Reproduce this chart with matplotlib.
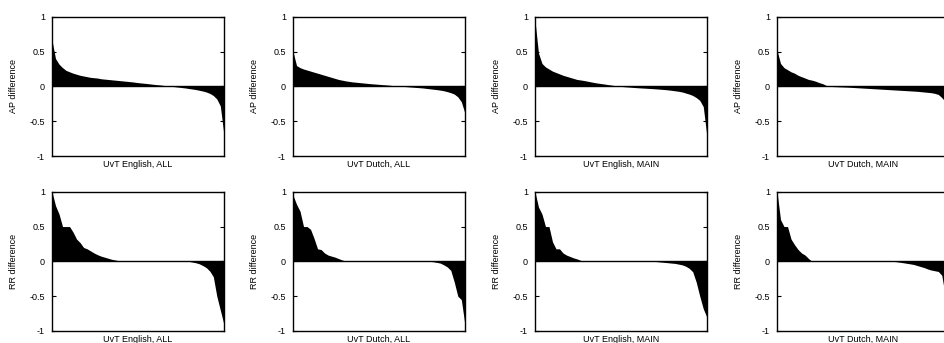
import matplotlib
matplotlib.use("Agg")
import matplotlib.pyplot as plt
import numpy as np

plt.rcParams['font.family'] = ['Liberation Sans', 'DejaVu Sans']

# sorted per-query differences (50 samples each)
ap_en_all = [0.66, 0.40, 0.32, 0.27, 0.23, 0.21, 0.19, 0.175, 0.16, 0.15,
             0.14, 0.13, 0.125, 0.12, 0.11, 0.105, 0.10, 0.095, 0.09, 0.085,
             0.08, 0.075, 0.07, 0.065, 0.058, 0.052, 0.047, 0.042, 0.036, 0.03,
             0.025, 0.02, 0.014, 0.008, 0.002, -0.004, -0.01, -0.016, -0.022, -0.03,
             -0.037, -0.045, -0.055, -0.066, -0.08, -0.10, -0.13, -0.18, -0.28, -0.68]
ap_nl_all = [0.50, 0.30, 0.27, 0.25, 0.235, 0.22, 0.205, 0.19, 0.175, 0.16,
             0.145, 0.13, 0.115, 0.10, 0.09, 0.08, 0.072, 0.065, 0.06, 0.055,
             0.05, 0.045, 0.04, 0.036, 0.032, 0.028, 0.024, 0.02, 0.015, 0.01,
             0.006, 0.002, -0.002, -0.006, -0.01, -0.014, -0.018, -0.022, -0.028, -0.034,
             -0.04, -0.046, -0.053, -0.062, -0.075, -0.09, -0.11, -0.15, -0.22, -0.38]
ap_en_main = [0.95, 0.48, 0.33, 0.28, 0.25, 0.22, 0.20, 0.18, 0.16, 0.145,
              0.13, 0.115, 0.10, 0.093, 0.085, 0.075, 0.065, 0.055, 0.047, 0.04,
              0.033, 0.025, 0.018, 0.01, 0.004, -0.002, -0.006, -0.01, -0.014, -0.018,
              -0.021, -0.024, -0.027, -0.03, -0.033, -0.037, -0.041, -0.045, -0.05, -0.056,
              -0.063, -0.07, -0.08, -0.095, -0.11, -0.13, -0.16, -0.20, -0.29, -0.70]
ap_nl_main = [0.52, 0.33, 0.27, 0.24, 0.21, 0.19, 0.16, 0.14, 0.12, 0.10,
              0.09, 0.075, 0.055, 0.04, 0.015, 0.002, -0.002, -0.004, -0.006, -0.008,
              -0.01, -0.013, -0.016, -0.019, -0.022, -0.025, -0.028, -0.031, -0.034, -0.037,
              -0.04, -0.043, -0.046, -0.049, -0.052, -0.055, -0.058, -0.061, -0.064, -0.067,
              -0.07, -0.075, -0.08, -0.085, -0.09, -0.10, -0.115, -0.16, -0.22, -0.40]

rr_en_all = [1.0, 0.80, 0.68, 0.5, 0.5, 0.5, 0.42, 0.32, 0.27, 0.20,
             0.18, 0.15, 0.12, 0.095, 0.075, 0.06, 0.045, 0.03, 0.02, 0.01,
             0.0, 0.0, 0.0, 0.0, 0.0, 0.0, 0.0, 0.0, 0.0, 0.0,
             0.0, 0.0, 0.0, 0.0, 0.0, 0.0, 0.0, 0.0, 0.0, 0.0,
             -0.01, -0.02, -0.035, -0.06, -0.09, -0.14, -0.22, -0.5, -0.7, -0.9]
rr_nl_all = [0.95, 0.82, 0.72, 0.5, 0.5, 0.46, 0.33, 0.18, 0.17, 0.12,
             0.09, 0.075, 0.06, 0.04, 0.02, 0.005, 0.0, 0.0, 0.0, 0.0,
             0.0, 0.0, 0.0, 0.0, 0.0, 0.0, 0.0, 0.0, 0.0, 0.0,
             0.0, 0.0, 0.0, 0.0, 0.0, 0.0, 0.0, 0.0, 0.0, 0.0,
             -0.005, -0.015, -0.025, -0.05, -0.08, -0.13, -0.3, -0.5, -0.55, -0.9]
rr_en_main = [1.0, 0.78, 0.68, 0.5, 0.5, 0.28, 0.18, 0.18, 0.12, 0.09,
              0.07, 0.05, 0.035, 0.015, 0.0, 0.0, 0.0, 0.0, 0.0, 0.0,
              0.0, 0.0, 0.0, 0.0, 0.0, 0.0, 0.0, 0.0, 0.0, 0.0,
              0.0, 0.0, 0.0, 0.0, 0.0, -0.005, -0.01, -0.015, -0.02, -0.025,
              -0.03, -0.04, -0.05, -0.07, -0.1, -0.15, -0.3, -0.5, -0.68, -0.8]
rr_nl_main = [1.0, 0.6, 0.5, 0.5, 0.32, 0.24, 0.17, 0.12, 0.09, 0.04,
              0.0, 0.0, 0.0, 0.0, 0.0, 0.0, 0.0, 0.0, 0.0, 0.0,
              0.0, 0.0, 0.0, 0.0, 0.0, 0.0, 0.0, 0.0, 0.0, 0.0,
              0.0, 0.0, 0.0, 0.0, -0.005, -0.012, -0.02, -0.028, -0.036, -0.045,
              -0.06, -0.075, -0.09, -0.11, -0.125, -0.135, -0.145, -0.2, -0.5, -0.6]

titles = ["UvT English, ALL", "UvT Dutch, ALL", "UvT English, MAIN", "UvT Dutch, MAIN"]
rows = [("AP difference", [ap_en_all, ap_nl_all, ap_en_main, ap_nl_main]),
        ("RR difference", [rr_en_all, rr_nl_all, rr_en_main, rr_nl_main])]

fig = plt.figure(figsize=(9.44, 3.43), dpi=100)

lefts = [0.0551, 0.3104, 0.5667, 0.8231]
bottoms = [0.545, 0.035]
w, h = 0.182, 0.406

for r, (ylab, series) in enumerate(rows):
    for c, vals in enumerate(series):
        ax = fig.add_axes([lefts[c], bottoms[r], w, h])
        x = np.arange(len(vals))
        ax.fill_between(x, vals, 0, color='black', linewidth=0)
        ax.axhline(0, color='black', lw=1)
        ax.set_xlim(0, len(vals) - 1)
        ax.set_ylim(-1, 1)
        ax.set_yticks([-1, -0.5, 0, 0.5, 1])
        ax.set_yticklabels(['-1', '-0.5', '0', '0.5', '1'])
        ax.set_xticks([])
        ax.tick_params(axis='y', direction='in', length=3, width=0.8,
                       right=True, labelsize=6.5, pad=5)
        for s in ax.spines.values():
            s.set_linewidth(1)
        ax.set_ylabel(ylab, fontsize=6.5, labelpad=8)
        ax.set_xlabel(titles[c], fontsize=6.5, labelpad=3)

fig.savefig("out.png", dpi=100)
